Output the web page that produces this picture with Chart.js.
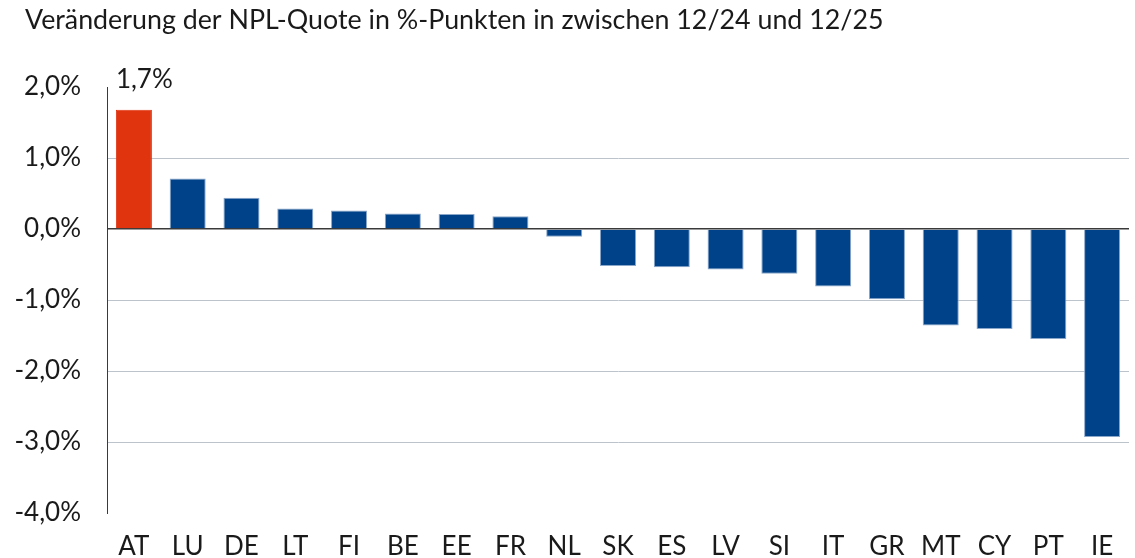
<!DOCTYPE html>
<html>
<head>
<meta charset="utf-8">
<script src="https://cdn.jsdelivr.net/npm/chart.js@4.4.1/dist/chart.umd.min.js"></script>
<style>
  html, body { margin: 0; padding: 0; background: #fff; }
  #wrap { position: relative; width: 1135px; height: 558px; }
</style>
</head>
<body>
<div id="wrap"><canvas id="chart"></canvas></div>
<script>
const titleText = "Veränderung der NPL-Quote in %-Punkten in zwischen 12/24 und 12/25";
const countries = ["AT", "LU", "DE", "LT", "FI", "BE", "EE", "FR", "NL", "SK", "ES", "LV", "SI", "IT", "GR", "MT", "CY", "PT", "IE"];
const nplChange = [1.68, 0.71, 0.44, 0.29, 0.26, 0.22, 0.21, 0.18, -0.11, -0.52, -0.54, -0.57, -0.63, -0.81, -0.99, -1.36, -1.41, -1.55, -2.93];
const highlight = "AT";
const yTicks = [2, 1, 0, -1, -2, -3, -4];

const FONT = "Lato, 'Noto Sans', sans-serif";
const fmt = (v) => v.toFixed(1).replace(".", ",") + "%";

// title + label above the highlighted bar
const extras = {
  id: "extras",
  afterDatasetsDraw(chart) {
    const ctx = chart.ctx;
    ctx.save();
    ctx.fillStyle = "#1a1a1a";
    ctx.font = "26.8px " + FONT;
    ctx.textAlign = "left";
    ctx.textBaseline = "alphabetic";
    ctx.fillText(titleText, 25, 29);

    const i = countries.indexOf(highlight);
    const bar = chart.getDatasetMeta(0).data[i];
    ctx.font = "26px " + FONT;
    ctx.fillText(fmt(Math.round(nplChange[i] * 10) / 10), bar.x - bar.width / 2, 88);
    ctx.restore();
  }
};

function draw() {
  new Chart(document.getElementById("chart"), {
    type: "bar",
    data: {
      labels: countries,
      datasets: [{
        data: nplChange,
        backgroundColor: countries.map(c => c === highlight ? "#e0340f" : "#00428a"),
        borderColor: countries.map(c => c === highlight ? "#e0340f" : "#8aa6c9"),
        borderWidth: 1,
        barPercentage: 0.67,
        categoryPercentage: 1
      }]
    },
    options: {
      responsive: true,
      maintainAspectRatio: false,
      animation: false,
      layout: { padding: { top: 87, right: 6, left: 0, bottom: 0 } },
      plugins: { legend: { display: false }, tooltip: { enabled: false } },
      scales: {
        x: {
          grid: { display: false },
          border: { display: false },
          ticks: { color: "#1a1a1a", font: { family: FONT, size: 26 }, padding: 10, maxRotation: 0, autoSkip: false },
          afterFit(scale) { scale.height = 45; }
        },
        y: {
          min: -4,
          max: 2,
          afterBuildTicks(scale) { scale.ticks = yTicks.map(v => ({ value: v })); },
          grid: {
            color(c) {
              const v = c.tick.value;
              if (v === 0) return "#3a3a3a";
              if (v === 2 || v === -4) return "rgba(0,0,0,0)";
              return "#bcc3ca";
            },
            lineWidth(c) { return c.tick.value === 0 ? 1.5 : 1; },
            drawTicks: false
          },
          border: { display: true, color: "#3a3a3a", width: 1 },
          ticks: {
            color: "#1a1a1a",
            font: { family: FONT, size: 26 },
            padding: 26,
            callback: (v) => fmt(v)
          },
          afterFit(scale) { scale.width = 107; }
        }
      }
    },
    plugins: [extras]
  });
}

document.fonts.load("26px Lato").then(draw, draw);
</script>
</body>
</html>
